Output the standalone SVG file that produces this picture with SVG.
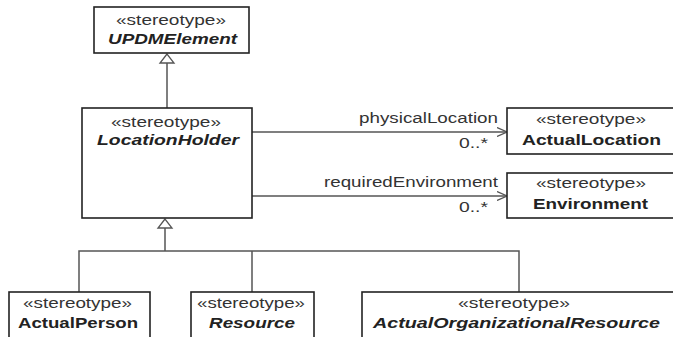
<svg xmlns="http://www.w3.org/2000/svg" width="673" height="337" viewBox="0 0 673 337">
<defs>
<style>
.box{fill:#fff;stroke:#222;stroke-width:1.6}
.conn{fill:none;stroke:#555;stroke-width:1.5}
.tri{fill:#fff;stroke:#555;stroke-width:1.3}
text{font-family:"Liberation Sans",Arial,sans-serif;font-size:14px;fill:#222}
.st{fill:#333}
.nm{font-weight:bold}
.ab{font-weight:bold;font-style:italic}
.lbl{fill:#333}
</style>
<marker id="open" viewBox="0 0 10 10" refX="10" refY="5" markerWidth="10" markerHeight="10" markerUnits="userSpaceOnUse" orient="auto">
<path d="M0,0.5 L10,5 L0,9.5" fill="none" stroke="#555" stroke-width="1.3"/>
</marker>
</defs>
<rect width="673" height="337" fill="#fff"/>
<g id="connectors">
<line class="conn" x1="167" y1="63" x2="167" y2="108"/>
<polygon class="tri" points="167,54 160,63 174,63"/>
<line class="conn" x1="165" y1="228" x2="165" y2="251"/>
<polygon class="tri" points="165,219 158,228 172,228"/>
<polyline class="conn" points="79,292 79,251 519,251 519,292"/>
<line class="conn" x1="252" y1="251" x2="252" y2="292"/>
<line class="conn" x1="252" y1="132" x2="507" y2="132" marker-end="url(#open)"/>
<line class="conn" x1="252" y1="196" x2="507" y2="196" marker-end="url(#open)"/>
<text class="lbl" x="359" y="123" textLength="139" lengthAdjust="spacingAndGlyphs">physicalLocation</text>
<text class="lbl" x="459" y="148" textLength="29" lengthAdjust="spacingAndGlyphs">0..*</text>
<text class="lbl" x="324" y="187" textLength="174" lengthAdjust="spacingAndGlyphs">requiredEnvironment</text>
<text class="lbl" x="459" y="212" textLength="29" lengthAdjust="spacingAndGlyphs">0..*</text>
</g>
<g id="UPDMElement">
<rect class="box" x="94" y="7" width="155" height="46"/>
<text class="st" x="116" y="25" textLength="110" lengthAdjust="spacingAndGlyphs">«stereotype»</text>
<text class="ab" x="108" y="44" textLength="129" lengthAdjust="spacingAndGlyphs">UPDMElement</text>
</g>
<g id="LocationHolder">
<rect class="box" x="82" y="108" width="170" height="110"/>
<text class="st" x="111" y="127" textLength="110" lengthAdjust="spacingAndGlyphs">«stereotype»</text>
<text class="ab" x="97" y="145" textLength="142" lengthAdjust="spacingAndGlyphs">LocationHolder</text>
</g>
<g id="ActualLocation">
<rect class="box" x="507" y="108" width="175" height="46"/>
<text class="st" x="536" y="124" textLength="110" lengthAdjust="spacingAndGlyphs">«stereotype»</text>
<text class="nm" x="522" y="145" textLength="139" lengthAdjust="spacingAndGlyphs">ActualLocation</text>
</g>
<g id="Environment">
<rect class="box" x="507" y="173" width="175" height="45"/>
<text class="st" x="536" y="188" textLength="110" lengthAdjust="spacingAndGlyphs">«stereotype»</text>
<text class="nm" x="533" y="209" textLength="115" lengthAdjust="spacingAndGlyphs">Environment</text>
</g>
<g id="ActualPerson">
<rect class="box" x="9" y="292" width="141" height="60"/>
<text class="st" x="23" y="308" textLength="109" lengthAdjust="spacingAndGlyphs">«stereotype»</text>
<text class="nm" x="18" y="328" textLength="120" lengthAdjust="spacingAndGlyphs">ActualPerson</text>
</g>
<g id="Resource">
<rect class="box" x="191" y="292" width="123" height="60"/>
<text class="st" x="197" y="308" textLength="108" lengthAdjust="spacingAndGlyphs">«stereotype»</text>
<text class="ab" x="209" y="328" textLength="86" lengthAdjust="spacingAndGlyphs">Resource</text>
</g>
<g id="ActualOrganizationalResource">
<rect class="box" x="362" y="292" width="320" height="60"/>
<text class="st" x="458" y="308" textLength="112" lengthAdjust="spacingAndGlyphs">«stereotype»</text>
<text class="ab" x="373" y="328" textLength="287" lengthAdjust="spacingAndGlyphs">ActualOrganizationalResource</text>
</g>
</svg>
